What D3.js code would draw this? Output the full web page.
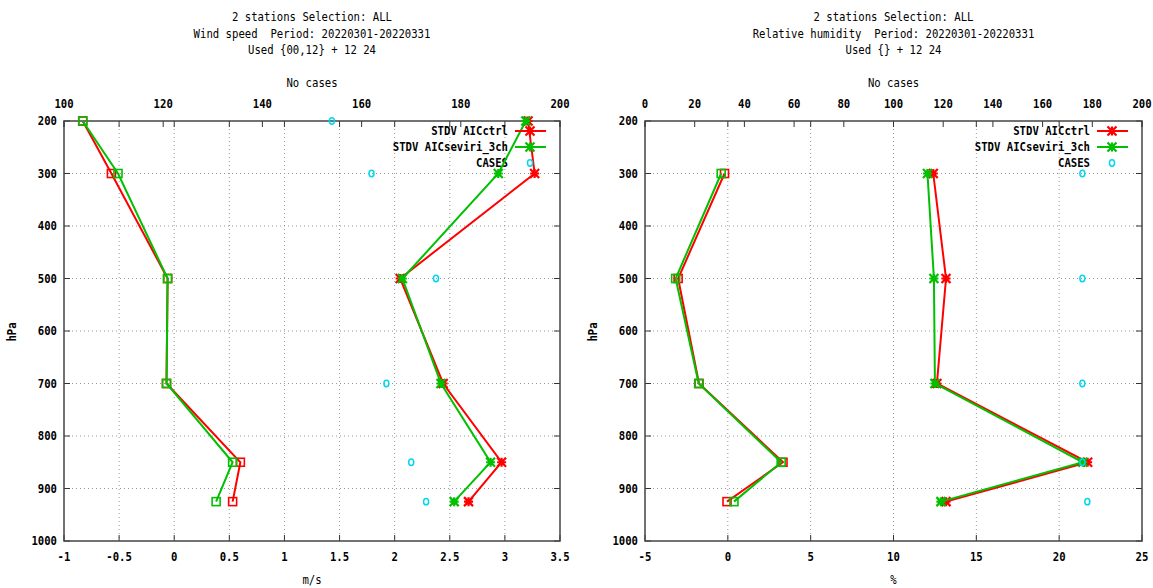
<!DOCTYPE html>
<html>
<head>
<meta charset="utf-8">
<script src="https://cdn.jsdelivr.net/npm/d3@7"></script>
<style>
  body { margin: 0; background: #fff; }
  svg text { font-family: "DejaVu Sans Mono", monospace; font-size: 12px; fill: #000; white-space: pre; }
  .tick-lab { font-weight: bold; }
</style>
</head>
<body>
<svg id="chart" width="1153" height="588"></svg>
<script>
// wind speed panel
const wsLevels = [200, 300, 500, 700, 850, 925];
const wsBiasCtrl = [-0.83, -0.57, -0.06, -0.07, 0.60, 0.53];
const wsBiasSev = [-0.83, -0.51, -0.06, -0.07, 0.53, 0.38];
const wsStdvCtrl = [3.21, 3.27, 2.05, 2.44, 2.97, 2.67];
const wsStdvSev = [3.19, 2.94, 2.07, 2.42, 2.87, 2.54];
const wsCases = [154, 162, 175, 165, 170, 173];
const wsTicks = [-1, -0.5, 0, 0.5, 1, 1.5, 2, 2.5, 3, 3.5];

// relative humidity panel
const rhLevels = [300, 500, 700, 850, 925];
const rhBiasCtrl = [-0.2, -3.0, -1.74, 3.33, -0.05];
const rhBiasSev = [-0.4, -3.15, -1.76, 3.22, 0.37];
const rhStdvCtrl = [12.4, 13.17, 12.62, 21.72, 13.17];
const rhStdvSev = [12.05, 12.44, 12.5, 21.43, 12.86];
const rhCases = [176, 176, 176, 176, 178];
const rhTicks = [-5, 0, 5, 10, 15, 20, 25];

const pressTicks = [200, 300, 400, 500, 600, 700, 800, 900, 1000];

const RED = "#ff0000", GREEN = "#00c000", CYAN = "#00d8f0";
const CHW = 6.4; // gnuplot font is narrow

const svg = d3.select("#chart");

// squeeze text to the narrow width of the original font
function narrow(sel) {
	sel.each(function() {
		let n = this.textContent.length;
		d3.select(this).attr("textLength", n * CHW).attr("lengthAdjust", "spacingAndGlyphs");
	});
	return sel;
}

function drawPanel(p) {
	let g = svg.append("g");
	let x = d3.scaleLinear().domain(p.xDomain).range([p.left, p.right]);
	let x2 = d3.scaleLinear().domain(p.x2Domain).range([p.left, p.right]);
	let y = d3.scaleLinear().domain([200, 1000]).range([121, 541]);
	let cx = (p.left + p.right) / 2;
	let x2Ticks = d3.range(p.x2Domain[0], p.x2Domain[1] + 1, 20);

	// titles
	p.title.forEach((t, i) => {
		narrow(g.append("text").attr("x", cx).attr("y", 21 + i * 16.5)
			.attr("text-anchor", "middle").text(t));
	});
	narrow(g.append("text").attr("x", cx).attr("y", 87).attr("text-anchor", "middle").text("No cases"));
	narrow(g.append("text").attr("x", cx).attr("y", 584).attr("text-anchor", "middle").text(p.unit));
	narrow(g.append("text").attr("transform", `translate(${p.left - 48},332) rotate(-90)`)
		.attr("text-anchor", "middle").attr("class", "tick-lab").text("hPa"));

	// grid
	g.selectAll(".vgrid").data(p.ticks.slice(1, -1)).enter().append("line")
		.attr("x1", d => x(d)).attr("x2", d => x(d)).attr("y1", 121).attr("y2", 541)
		.attr("stroke", "#999").attr("stroke-width", 1).attr("stroke-dasharray", "1,3");
	g.selectAll(".hgrid").data(pressTicks.slice(1, -1)).enter().append("line")
		.attr("x1", p.left).attr("x2", p.right).attr("y1", d => y(d)).attr("y2", d => y(d))
		.attr("stroke", "#999").attr("stroke-width", 1).attr("stroke-dasharray", "1,3");

	// tick marks
	let tk = g.append("g").attr("stroke", "#333").attr("stroke-width", 1);
	p.ticks.forEach(d => {
		tk.append("line").attr("x1", x(d)).attr("x2", x(d)).attr("y1", 541).attr("y2", 535);
		tk.append("line").attr("x1", x(d)).attr("x2", x(d)).attr("y1", 121).attr("y2", 127);
	});
	x2Ticks.forEach(d => {
		tk.append("line").attr("x1", x2(d)).attr("x2", x2(d)).attr("y1", 121).attr("y2", 127);
	});
	pressTicks.forEach(d => {
		tk.append("line").attr("x1", p.left).attr("x2", p.left + 6).attr("y1", y(d)).attr("y2", y(d));
		tk.append("line").attr("x1", p.right).attr("x2", p.right - 6).attr("y1", y(d)).attr("y2", y(d));
	});

	// tick labels
	narrow(g.selectAll(".xl").data(p.ticks).enter().append("text").attr("class", "tick-lab")
		.attr("x", d => x(d)).attr("y", 561).attr("text-anchor", "middle").text(d => d));
	narrow(g.selectAll(".x2l").data(x2Ticks).enter().append("text")
		.attr("class", "tick-lab").attr("x", d => x2(d)).attr("y", 108).attr("text-anchor", "middle").text(d => d));
	narrow(g.selectAll(".yl").data(pressTicks).enter().append("text").attr("class", "tick-lab")
		.attr("x", p.left - 7).attr("y", d => y(d) + 4).attr("text-anchor", "end").text(d => d));

	// border
	g.append("rect").attr("x", p.left).attr("y", 121).attr("width", p.right - p.left).attr("height", 420)
		.attr("fill", "none").attr("stroke", "#444").attr("stroke-width", 1.5);

	let line = d3.line().x(d => x(d[0])).y(d => y(d[1]));

	function square(gg, px, py, col) {
		gg.append("rect").attr("x", px - 4).attr("y", py - 4).attr("width", 8).attr("height", 8)
			.attr("fill", "none").attr("stroke", col).attr("stroke-width", 1.6);
	}
	function star(gg, px, py, col) {
		let s = 4.5;
		gg.append("path")
			.attr("d", `M${px - s},${py}H${px + s}M${px},${py - s}V${py + s}M${px - s},${py - s}L${px + s},${py + s}M${px - s},${py + s}L${px + s},${py - s}`)
			.attr("stroke", col).attr("stroke-width", 2.2);
	}

	// legend text sits under the curves
	let lx = p.right - 45;
	let legend = [["STDV AICctrl", RED, "star"], ["STDV AICseviri_3ch", GREEN, "star"], ["CASES", CYAN, "circ"]];
	legend.forEach((d, i) => {
		narrow(g.append("text").attr("class", "tick-lab").attr("x", lx - 7).attr("y", 131 + i * 16 + 4)
			.attr("text-anchor", "end").text(d[0]));
	});

	function series(vals, col, marker) {
		let pts = vals.map((v, i) => [v, p.levels[i]]);
		g.append("path").attr("d", line(pts)).attr("fill", "none")
			.attr("stroke", col).attr("stroke-width", 2);
		pts.forEach(d => marker(g, x(d[0]), y(d[1]), col));
	}

	series(p.biasCtrl, RED, square);
	series(p.biasSev, GREEN, square);
	series(p.stdvCtrl, RED, star);
	series(p.stdvSev, GREEN, star);

	// cases
	g.selectAll(".case").data(p.cases).enter().append("ellipse")
		.attr("cx", d => x2(d)).attr("cy", (d, i) => y(p.levels[i]))
		.attr("rx", 2.5).attr("ry", 3.2).attr("fill", "none").attr("stroke", CYAN).attr("stroke-width", 1.5);

	// legend samples
	legend.forEach((d, i) => {
		let ly = 131 + i * 16;
		if (d[2] == "star") {
			g.append("line").attr("x1", lx).attr("x2", lx + 31).attr("y1", ly).attr("y2", ly)
				.attr("stroke", d[1]).attr("stroke-width", 2);
			star(g, lx + 15, ly, d[1]);
		} else {
			g.append("ellipse").attr("cx", lx + 15).attr("cy", ly).attr("rx", 2.5).attr("ry", 3.2)
				.attr("fill", "none").attr("stroke", d[1]).attr("stroke-width", 1.5);
		}
	});
}

drawPanel({
	left: 64, right: 560,
	xDomain: [-1, 3.5], x2Domain: [100, 200], ticks: wsTicks,
	title: ["2 stations Selection: ALL", "Wind speed  Period: 20220301-20220331", "Used {00,12} + 12 24"],
	unit: "m/s",
	levels: wsLevels, biasCtrl: wsBiasCtrl, biasSev: wsBiasSev,
	stdvCtrl: wsStdvCtrl, stdvSev: wsStdvSev, cases: wsCases
});

drawPanel({
	left: 645, right: 1142,
	xDomain: [-5, 25], x2Domain: [0, 200], ticks: rhTicks,
	title: ["2 stations Selection: ALL", "Relative humidity  Period: 20220301-20220331", "Used {} + 12 24"],
	unit: "%",
	levels: rhLevels, biasCtrl: rhBiasCtrl, biasSev: rhBiasSev,
	stdvCtrl: rhStdvCtrl, stdvSev: rhStdvSev, cases: rhCases
});
</script>
</body>
</html>
